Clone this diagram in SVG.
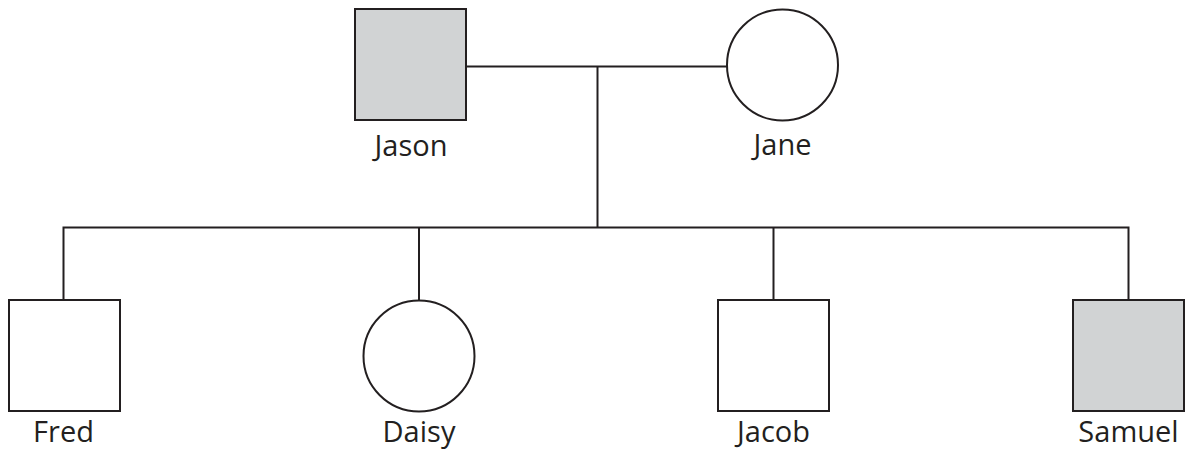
<svg xmlns="http://www.w3.org/2000/svg" width="1187" height="454" viewBox="0 0 1187 454">
<style>
.s{stroke:#231f20;stroke-width:2;}
.m{fill:#ffffff;}
.a{fill:#d1d3d4;}
.c{fill:none;stroke:#231f20;stroke-width:2;}
text{font-family:"Open Sans","Noto Sans",sans-serif;font-size:29px;fill:#231f20;text-anchor:middle;}
</style>
<rect width="1187" height="454" fill="#ffffff"/>
<g id="connectors">
<line class="c" x1="466" y1="66.5" x2="727" y2="66.5"/>
<line class="c" x1="597.5" y1="66.5" x2="597.5" y2="227.5"/>
<polyline class="c" points="63.5,300 63.5,227.5 1128.5,227.5 1128.5,300"/>
<line class="c" x1="419" y1="227.5" x2="419" y2="300"/>
<line class="c" x1="773.5" y1="227.5" x2="773.5" y2="300"/>
</g>
<g id="jason">
<rect class="s a" x="355" y="9" width="111" height="111"/>
<text x="411" y="156">Jason</text>
</g>
<g id="jane">
<circle class="s m" cx="782.5" cy="65" r="55.5"/>
<text x="782.5" y="155">Jane</text>
</g>
<g id="fred">
<rect class="s m" x="9" y="300" width="111" height="111"/>
<text x="63.5" y="442">Fred</text>
</g>
<g id="daisy">
<circle class="s m" cx="419" cy="356" r="55.5"/>
<text x="419" y="442">Daisy</text>
</g>
<g id="jacob">
<rect class="s m" x="718" y="300" width="111" height="111"/>
<text x="773.5" y="442">Jacob</text>
</g>
<g id="samuel">
<rect class="s a" x="1073" y="300" width="111" height="111"/>
<text x="1128.5" y="442">Samuel</text>
</g>
</svg>
